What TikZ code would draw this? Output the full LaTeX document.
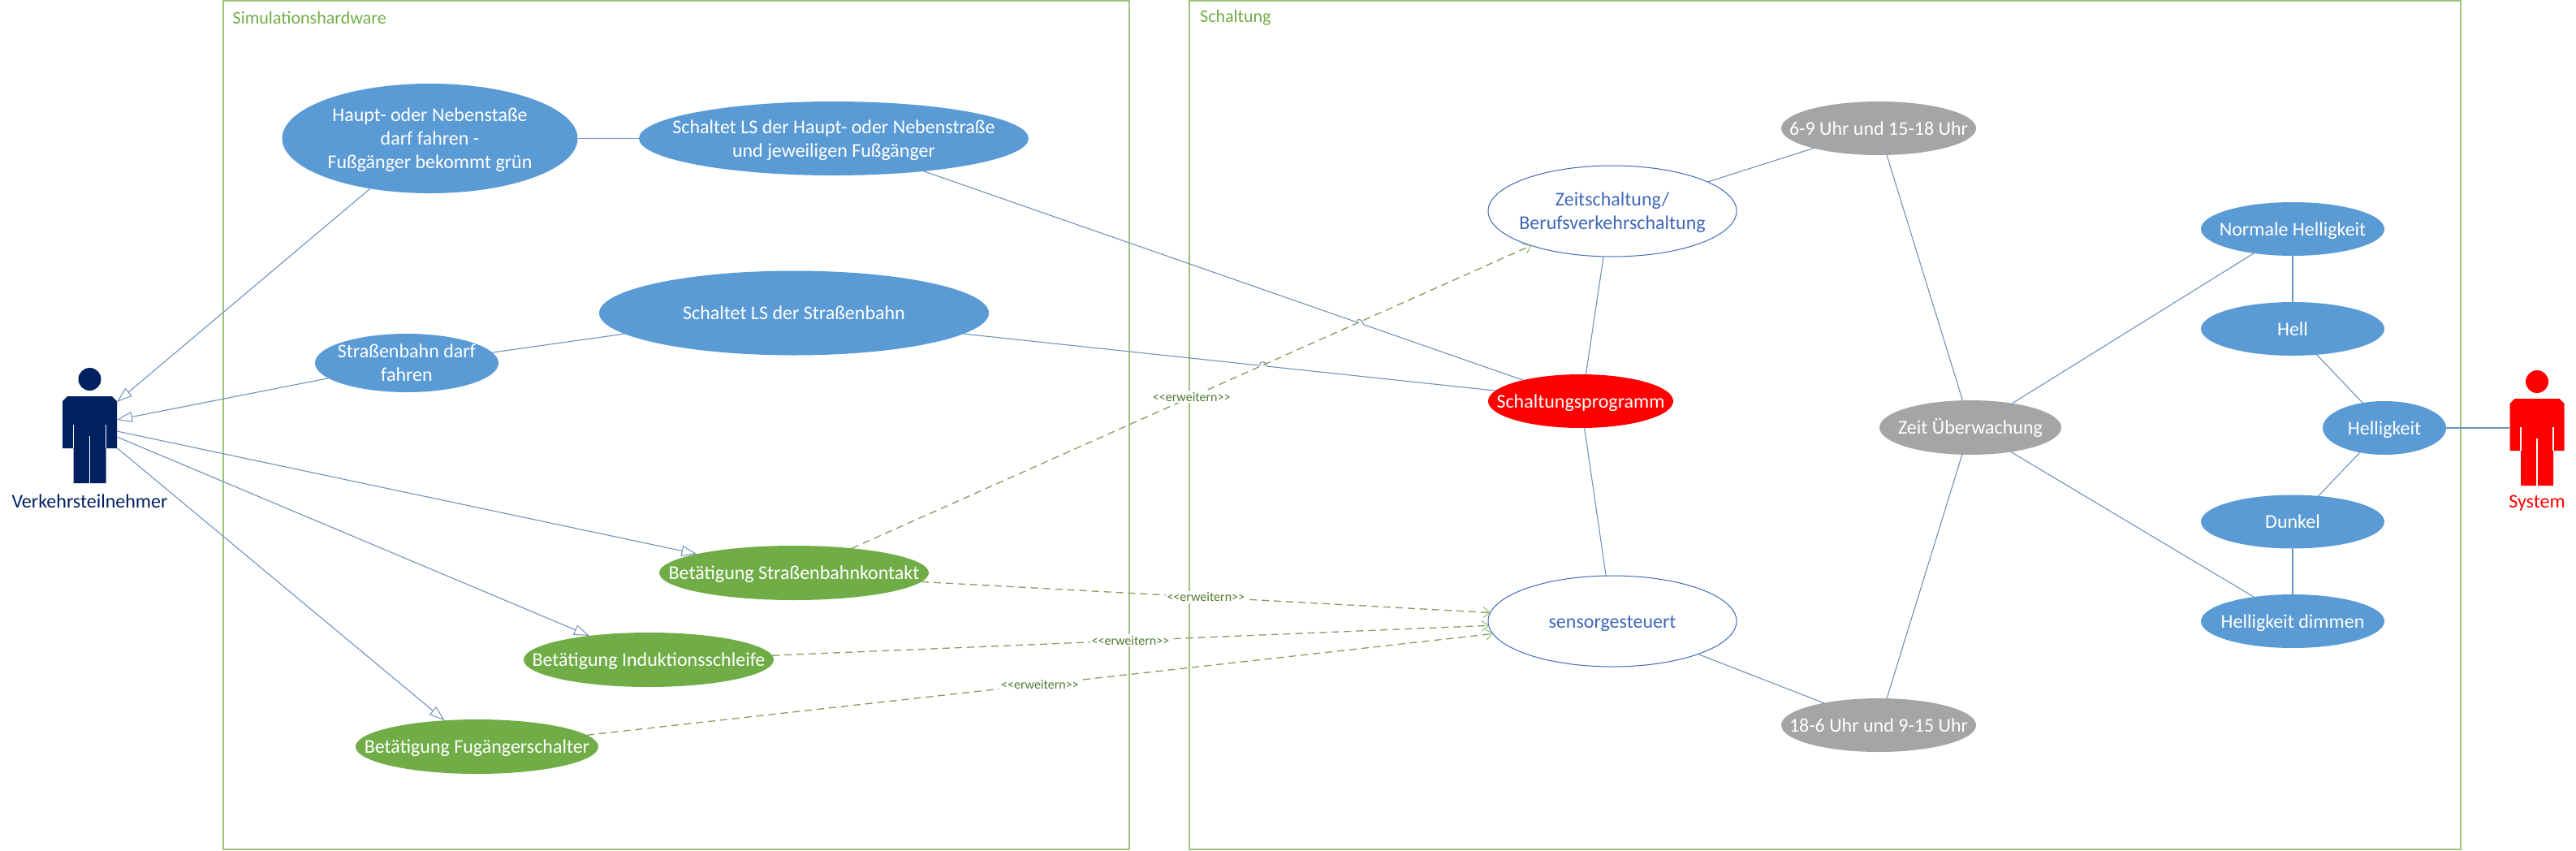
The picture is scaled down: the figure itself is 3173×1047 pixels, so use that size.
\documentclass[tikz,border=0pt]{standalone}
\usepackage{fontspec}
\setmainfont{Carlito}
\usetikzlibrary{shapes.geometric,arrows.meta}
\definecolor{ublue}{HTML}{5B9BD5}
\definecolor{ugreen}{HTML}{70AD47}
\definecolor{ugray}{HTML}{A5A5A5}
\definecolor{uline}{HTML}{6F92BC}
\definecolor{ubox}{HTML}{9CC47E}
\definecolor{uborder}{HTML}{3F68B8}
\definecolor{udash}{HTML}{849C62}
\definecolor{ulabel}{HTML}{4E7A2F}
\definecolor{unavy}{HTML}{002060}
\newcommand{\etx}[1]{\smash{\makebox[0pt]{\raisebox{-.36em}{\begin{tabular}{@{}c@{}}#1\end{tabular}}}}}
\tikzset{
  x=1pt,y=-1pt,
  uc/.style={ellipse,inner sep=0pt,outer sep=0pt,text=white,font=\fontsize{24}{29}\selectfont},
  bluec/.style={uc,fill=ublue},
  greenc/.style={uc,fill=ugreen},
  grayc/.style={uc,fill=ugray},
  redc/.style={uc,fill=red},
  whitec/.style={uc,fill=white,draw=uborder,line width=1pt,text=uborder},
  usize/.style n args={2}{minimum width=#1*2pt,minimum height=#2*2pt},
  conn/.style={draw=uline,line width=1.1pt},
  assoc/.style={conn,-{Triangle[open,length=19pt,width=13pt,line width=1pt]}},
  ext/.style={draw=udash,line width=1.3pt,dash pattern=on 9pt off 6pt,
    -{Straight Barb[length=8pt,width=13pt,line width=.8pt,color=ugreen]}},
  extlabel/.style={fill=white,inner sep=2pt,text=ulabel,font=\fontsize{16}{18}\selectfont},
  sysbox/.style={draw=ubox,line width=2pt},
  boxtitle/.style={anchor=west,inner sep=0pt,text=ugreen,font=\fontsize{22}{24}\selectfont},
  actorname/.style={inner sep=0pt,font=\fontsize{24}{26}\selectfont},
  actorfig/.pic={
    \fill (0,14) circle[radius=14pt];
    \fill (-27.5,35) -- (27.5,35) -- (33.5,41) -- (33.5,99) -- (20,99) -- (20,142)
      -- (-20,142) -- (-20,99) -- (-33.5,99) -- (-33.5,41) -- cycle;
    \draw[white,line width=1.3pt] (-20,70) -- (-20,99) (20,70) -- (20,99) (0,84) -- (0,142);
  }
}
\begin{document}
\begin{tikzpicture}
\useasboundingbox (0,0) rectangle (3173,1047);
% system boundaries
\node[sysbox,rectangle,inner sep=0pt,outer sep=0pt,anchor=north west,minimum width=1116.5pt,minimum height=1045pt] (simbox) at (274.5,1) {};
\node[sysbox,rectangle,inner sep=0pt,outer sep=0pt,anchor=north west,minimum width=1566pt,minimum height=1045pt] (schbox) at (1465,1) {};
\node[boxtitle] (simtitle) at (286.5,22) {Simulationshardware};
\node[boxtitle] (schtitle) at (1478,22) {Schaltung};
% actors
\begin{scope}[color=unavy]\path (110.5,453) pic {actorfig};\end{scope}
\begin{scope}[color=red]\path (3125,456) pic {actorfig};\end{scope}
\node[actorname,text=unavy] (vname) at (110.5,617) {Verkehrsteilnehmer};
\node[actorname,text=red] (sname) at (3125,620) {System};
\coordinate (va1) at (144,495);
\coordinate (va2) at (144,517);
\coordinate (va3) at (144,531);
\coordinate (va4) at (144,538);
\coordinate (va5) at (144,551.5);
\coordinate (sa) at (3091,527);
% use cases
\node[bluec,usize={182}{67.5}] (haupt) at (529.5,170.5) {\etx{Haupt- oder Nebenstaße\\darf fahren -\\Fußgänger bekommt grün}};
\node[bluec,usize={240}{45.5}] (lshaupt) at (1027,170.5) {\etx{Schaltet LS der Haupt- oder Nebenstraße\\und jeweiligen Fußgänger}};
\node[bluec,usize={240}{52}] (lsbahn) at (978,385.5) {\etx{Schaltet LS der Straßenbahn}};
\node[bluec,usize={113}{36}] (bahn) at (501,447) {\etx{Straßenbahn darf\\fahren}};
\node[greenc,usize={166}{33.5}] (kontakt) at (978,705.5) {\etx{Betätigung Straßenbahnkontakt}};
\node[greenc,usize={154}{33.5}] (schleife) at (799,812.5) {\etx{Betätigung Induktionsschleife}};
\node[greenc,usize={149.5}{33.5}] (fuss) at (587.5,919.5) {\etx{Betätigung Fugängerschalter}};
\node[whitec,usize={153}{56}] (zeit) at (1986,260) {\etx{Zeitschaltung/\\Berufsverkehrschaltung}};
\node[whitec,usize={153}{56}] (sensor) at (1986,765) {\etx{sensorgesteuert}};
\node[redc,usize={114}{33}] (prog) at (1947,494) {\etx{Schaltungsprogramm}};
\node[grayc,usize={120}{33}] (frueh) at (2314,158) {\etx{6-9 Uhr und 15-18 Uhr}};
\node[grayc,usize={120}{33}] (spaet) at (2314,893) {\etx{18-6 Uhr und 9-15 Uhr}};
\node[grayc,usize={112}{33.5}] (ueber) at (2427,526.5) {\etx{Zeit Überwachung}};
\node[bluec,usize={113}{33}] (normal) at (2824,282) {\etx{Normale Helligkeit}};
\node[bluec,usize={113}{33}] (hell) at (2824,405) {\etx{Hell}};
\node[bluec,usize={76}{33}] (helligkeit) at (2937,527) {\etx{Helligkeit}};
\node[bluec,usize={113}{33}] (dunkel) at (2824,642.5) {\etx{Dunkel}};
\node[bluec,usize={113}{33}] (dimmen) at (2824,765) {\etx{Helligkeit dimmen}};
% connectors
\draw[assoc] (haupt.220) -- (va1);
\draw[assoc] (bahn.191.5) -- (va2);
\draw[assoc] (va3) -- (kontakt.169);
\draw[assoc] (va4) -- (schleife.158);
\draw[assoc] (va5) -- (fuss.141);
\draw[conn] (haupt.east) -- (lshaupt.west);
\draw[conn] (bahn.7.6) -- (lsbahn.187.2);
\draw[conn] (lshaupt.340.7) -- (prog.160.7);
\draw[conn] (lsbahn.353.5) -- (prog.173.5);
\draw[conn] (zeit.259.9) -- (prog.79.7);
\draw[conn] (prog.278.6) -- (sensor.98.1);
\draw[conn] (zeit.17) -- (frueh.197);
\draw[conn] (frueh.287.6) -- (ueber.106.6);
\draw[conn] (sensor.339) -- (spaet.158.9);
\draw[conn] (spaet.73.5) -- (ueber.253.6);
\draw[conn] (ueber.30.5) -- (normal.212.3);
\draw[conn] (ueber.329.2) -- (dimmen.148.5);
\draw[conn] (normal.south) -- (hell.north);
\draw[conn] (hell.313.4) -- (helligkeit.131.9);
\draw[conn] (helligkeit.225.4) -- (dunkel.45.3);
\draw[conn] (dunkel.south) -- (dimmen.north);
\draw[conn] (helligkeit.east) -- (sa);
% line hops
\draw[white,line width=2.5pt] (1671,396.9) -- (1679,399.7);
\draw[conn] (1671,396.9) .. controls (1671,391) and (1679,393) .. (1679,399.7);
\draw[white,line width=2.5pt] (1551.6,449.8) -- (1559.6,450.6);
\draw[conn] (1551.6,449.8) .. controls (1551.6,444) and (1559.6,444) .. (1559.6,450.6);
% extend relations
\draw[ext] (kontakt.23.5) -- node[extlabel] (l1) {<{}<erweitern>{}>} (zeit.203.9);
\draw[ext] (kontakt.356.6) -- node[extlabel] (l2) {<{}<erweitern>{}>} (sensor.176.5);
\draw[ext] (schleife.2.4) -- node[extlabel] (l3) {<{}<erweitern>{}>} (sensor.182.1);
\draw[ext] (fuss.6.7) -- node[extlabel] (l4) {<{}<erweitern>{}>} (sensor.186.5);
\end{tikzpicture}
\end{document}
